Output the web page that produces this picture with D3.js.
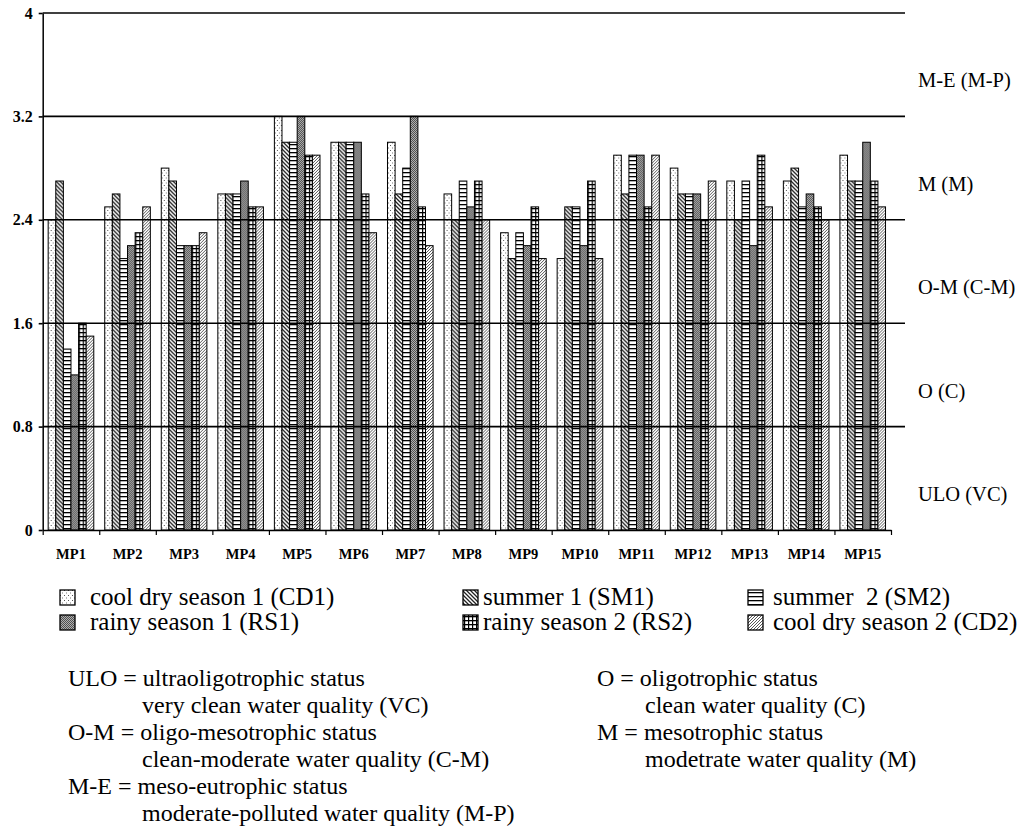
<!DOCTYPE html>
<html><head><meta charset="utf-8">
<script src="https://cdn.jsdelivr.net/npm/d3@7"></script>
<style>
body{margin:0;background:#fff}
svg{display:block}
</style>
</head><body>
<svg id="c" width="1018" height="828"></svg>
<script>
const categories = ["MP1","MP2","MP3","MP4","MP5","MP6","MP7","MP8","MP9","MP10","MP11","MP12","MP13","MP14","MP15"];
const seriesNames = ["CD1","SM1","SM2","RS1","RS2","CD2"];
const seriesLabels = ["cool dry season 1 (CD1)","summer 1 (SM1)","summer  2 (SM2)","rainy season 1 (RS1)","rainy season 2 (RS2)","cool dry season 2 (CD2)"];
const cd1 = [2.4,2.5,2.8,2.6,3.2,3.0,3.0,2.6,2.3,2.1,2.9,2.8,2.7,2.7,2.9];
const sm1 = [2.7,2.6,2.7,2.6,3.0,3.0,2.6,2.4,2.1,2.5,2.6,2.6,2.4,2.8,2.7];
const sm2 = [1.4,2.1,2.2,2.6,3.0,3.0,2.8,2.7,2.3,2.5,2.9,2.6,2.7,2.5,2.7];
const rs1 = [1.2,2.2,2.2,2.7,3.2,3.0,3.2,2.5,2.2,2.2,2.9,2.6,2.2,2.6,3.0];
const rs2 = [1.6,2.3,2.2,2.5,2.9,2.6,2.5,2.7,2.5,2.7,2.5,2.4,2.9,2.5,2.7];
const cd2 = [1.5,2.5,2.3,2.5,2.9,2.3,2.2,2.4,2.1,2.1,2.9,2.7,2.5,2.4,2.5];
const yTicks = [0,0.8,1.6,2.4,3.2,4];
const yTickLabels = ["0","0.8","1.6","2.4","3.2","4"];
const bandLabels = ["ULO (VC)","O (C)","O-M (C-M)","M (M)","M-E (M-P)"];
const notesLeft = [
  ["ULO = ultraoligotrophic status", 0],
  ["very clean water quality (VC)", 1],
  ["O-M = oligo-mesotrophic status", 0],
  ["clean-moderate water quality (C-M)", 1],
  ["M-E = meso-eutrophic status", 0],
  ["moderate-polluted water quality (M-P)", 1]
];
const notesRight = [
  ["O = oligotrophic status", 0],
  ["clean water quality (C)", 1],
  ["M = mesotrophic status", 0],
  ["modetrate water quality (M)", 1]
];

const FONT = '"Liberation Serif","Times New Roman",serif';
const seriesValues = [cd1, sm1, sm2, rs1, rs2, cd2];
const data = categories.map((c, i) => ({cat: c, vals: seriesNames.map((s, j) => ({s, v: seriesValues[j][i]}))}));

const svg = d3.select("#c");
svg.append("rect").attr("width",1018).attr("height",828).attr("fill","#fff");

// patterns
const defs = svg.append("defs");
function pat(id, w, h, bg, build) {
  const p = defs.append("pattern").attr("id", id).attr("patternUnits","userSpaceOnUse")
    .attr("width", w).attr("height", h);
  p.append("rect").attr("width", w).attr("height", h).attr("fill", bg);
  build(p);
}
pat("pCD1", 4, 5, "#fff", p => {
  p.append("rect").attr("x",0).attr("y",0).attr("width",1).attr("height",1).attr("fill","#555");
  p.append("rect").attr("x",2).attr("y",2.5).attr("width",1).attr("height",1).attr("fill","#777");
});
pat("pSM1", 4, 4, "#fff", p => {
  p.append("path").attr("d","M0,0L4,4M-1,3L1,5M3,-1L5,1").attr("stroke","#222").attr("stroke-width",1.3);
});
pat("pSM2", 4, 4, "#fff", p => {
  p.append("rect").attr("x",0).attr("y",0).attr("width",4).attr("height",1.3).attr("fill","#000");
});
pat("pRS1", 2, 2, "#b0b0b0", p => {
  p.append("rect").attr("x",0).attr("y",0).attr("width",1).attr("height",1).attr("fill","#505050");
  p.append("rect").attr("x",1).attr("y",1).attr("width",1).attr("height",1).attr("fill","#505050");
});
pat("pRS2", 4, 4, "#fff", p => {
  p.append("rect").attr("x",0).attr("y",0).attr("width",4).attr("height",1.3).attr("fill","#000");
  p.append("rect").attr("x",0).attr("y",0).attr("width",1.2).attr("height",4).attr("fill","#000");
});
pat("pCD2", 3, 3, "#fff", p => {
  p.append("path").attr("d","M0,3L3,0M-1,1L1,-1M2,4L4,2").attr("stroke","#444").attr("stroke-width",0.9);
});
const fills = {CD1:"url(#pCD1)",SM1:"url(#pSM1)",SM2:"url(#pSM2)",RS1:"url(#pRS1)",RS2:"url(#pRS2)",CD2:"url(#pCD2)"};

// scales
const x0 = d3.scaleBand().domain(categories).range([42.7, 891]).paddingInner(0).paddingOuter(0);
const x1 = d3.scaleBand().domain(seriesNames).range([0, x0.bandwidth()]).paddingInner(0).paddingOuter(0.72);
const y = d3.scaleLinear().domain([0, 4]).range([530, 13]);

// bars
const g = svg.append("g");
g.selectAll("g.cat").data(data).join("g").attr("class","cat")
  .attr("transform", d => `translate(${x0(d.cat)},0)`)
  .selectAll("rect").data(d => d.vals).join("rect")
  .attr("x", d => x1(d.s)).attr("width", x1.bandwidth())
  .attr("y", d => y(d.v)).attr("height", d => y(0) - y(d.v))
  .attr("fill", d => fills[d.s]).attr("stroke","#000").attr("stroke-width",1);

// gridlines (on top)
svg.append("g").selectAll("line").data(yTicks.filter(t => t > 0)).join("line")
  .attr("x1", 42.7).attr("x2", 905).attr("y1", d => y(d)).attr("y2", d => y(d))
  .attr("stroke","#000").attr("stroke-width",1.6);

// y axis
const yAxis = svg.append("g").attr("transform","translate(42.7,0)")
  .call(d3.axisLeft(y).tickValues(yTicks).tickSize(4).tickSizeOuter(0).tickPadding(6)
    .tickFormat((d, i) => yTickLabels[i]));
yAxis.select(".domain").attr("stroke","#000").attr("stroke-width",1.5);
yAxis.selectAll(".tick line").attr("stroke","#000").attr("stroke-width",1.6);
yAxis.selectAll(".tick text").style("font-family", FONT)
  .attr("font-size",16).attr("font-weight","bold").attr("fill","#000");

// x axis boundary ticks
const xb = d3.scaleLinear().domain([0, categories.length]).range(x0.range());
const xAxis = svg.append("g").attr("transform",`translate(0,${y(0)})`)
  .call(d3.axisBottom(xb).tickValues(d3.range(0, categories.length + 1)).tickSize(5).tickSizeOuter(0).tickFormat(""));
xAxis.select(".domain").attr("stroke","#000").attr("stroke-width",1.5);
xAxis.selectAll(".tick line").attr("stroke","#000").attr("stroke-width",1.2);

// x labels
const xLab = svg.append("g").attr("transform",`translate(0,${y(0)})`)
  .call(d3.axisBottom(x0).tickSize(0).tickPadding(19));
xLab.select(".domain").remove();
xLab.selectAll(".tick text").style("font-family", FONT)
  .attr("font-size",14.5).attr("font-weight","bold").attr("fill","#000");

// band labels (right)
svg.append("g").selectAll("text").data(bandLabels).join("text")
  .attr("x", 918).attr("y", (d, i) => y(yTicks[i]) - 29)
  .style("font-family", FONT).attr("font-size", 20.5).text(d => d);

// legend
const legX = [60, 463, 748], legTextX = [90, 483, 773], legY = [605, 630];
const leg = svg.append("g").selectAll("g").data(seriesNames).join("g");
leg.append("rect")
  .attr("x", (d, i) => legX[i % 3]).attr("y", (d, i) => legY[Math.floor(i / 3)] - 15)
  .attr("width", 15).attr("height", 15)
  .attr("fill", d => fills[d]).attr("stroke","#000").attr("stroke-width",1.3);
leg.append("text")
  .attr("x", (d, i) => legTextX[i % 3]).attr("y", (d, i) => legY[Math.floor(i / 3)])
  .style("font-family", FONT).attr("font-size", 25).style("white-space","pre")
  .text((d, i) => seriesLabels[i]);

// notes
const noteY0 = 686, noteDy = 27;
svg.append("g").selectAll("text").data(notesLeft).join("text")
  .attr("x", d => d[1] ? 142 : 68).attr("y", (d, i) => noteY0 + i * noteDy)
  .style("font-family", FONT).attr("font-size", 24).text(d => d[0]);
svg.append("g").selectAll("text").data(notesRight).join("text")
  .attr("x", d => d[1] ? 645 : 597).attr("y", (d, i) => noteY0 + i * noteDy)
  .style("font-family", FONT).attr("font-size", 24).text(d => d[0]);
</script>
</body></html>
